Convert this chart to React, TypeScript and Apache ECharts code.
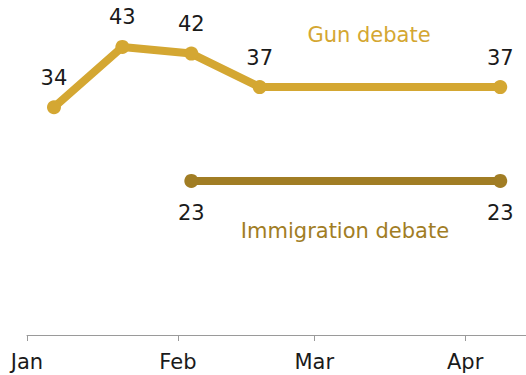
import React, { useEffect, useRef } from "react";
import * as echarts from "echarts";

const seriesNames = ["Gun debate", "Immigration debate"];
const gunDates = ["2013-01-06T13:00", "2013-01-20T14:00", "2013-02-03T18:00", "2013-02-17T19:00", "2013-04-08T05:00"];
const gunValues = [34, 43, 42, 37, 37];
const immDates = ["2013-02-03T18:00", "2013-04-08T05:00"];
const immValues = [23, 23];
const monthTicks = ["2013-01-01T00:00", "2013-02-01T00:00", "2013-03-01T00:00", "2013-04-01T00:00"];
const monthLabels = ["Jan", "Feb", "Mar", "Apr"];
const axisStart = "2013-01-01T00:00";
const axisEnd = "2013-04-13T12:00";

const ts = (s: string) => new Date(s).getTime();
const FONT = "DejaVu Sans";
const GUN = "#D4A732";
const IMM = "#A17D24";

export default function App() {
  const ref = useRef<HTMLDivElement>(null);
  useEffect(() => {
    if (!ref.current) return;
    const chart = echarts.init(ref.current, null, { renderer: "svg" });
    const tickTs = monthTicks.map(ts);
    chart.setOption({
      animation: false,
      grid: { left: 27, right: 0, top: 0, bottom: 40 },
      xAxis: {
        type: "value",
        min: ts(axisStart),
        max: ts(axisEnd),
        axisLine: { show: true, lineStyle: { color: "#9a9a9a", width: 1 } },
        axisTick: { show: true, length: 6, lineStyle: { color: "#9a9a9a" }, customValues: tickTs },
        axisLabel: {
          customValues: tickTs,
          color: "#1a1a1a",
          fontFamily: FONT,
          fontSize: 21,
          margin: 16,
          formatter: (v: number) => {
            const i = tickTs.findIndex((t) => Math.abs(t - v) < 86400000);
            return i >= 0 ? monthLabels[i] : "";
          },
        },
        splitLine: { show: false },
      },
      yAxis: { type: "value", min: 0, max: 50, show: false, splitLine: { show: false } },
      series: [
        {
          name: seriesNames[0],
          type: "line",
          data: gunDates.map((d, i) => [ts(d), gunValues[i]]),
          lineStyle: { color: GUN, width: 8 },
          itemStyle: { color: GUN },
          symbol: "circle",
          symbolSize: 14,
          label: { show: true, position: "top", distance: 12, color: "#1a1a1a", fontFamily: FONT, fontSize: 21 },
        },
        {
          name: seriesNames[1],
          type: "line",
          data: immDates.map((d, i) => [ts(d), immValues[i]]),
          lineStyle: { color: IMM, width: 8 },
          itemStyle: { color: IMM },
          symbol: "circle",
          symbolSize: 14,
          label: { show: true, position: "bottom", distance: 15, color: "#1a1a1a", fontFamily: FONT, fontSize: 21 },
        },
      ],
      graphic: [
        {
          type: "text",
          x: 369,
          y: 35,
          style: { text: seriesNames[0], fill: GUN, font: `21px '${FONT}'`, textAlign: "center", textVerticalAlign: "middle" },
        },
        {
          type: "text",
          x: 345,
          y: 231,
          style: { text: seriesNames[1], fill: IMM, font: `21px '${FONT}'`, textAlign: "center", textVerticalAlign: "middle" },
        },
      ],
    });
    return () => chart.dispose();
  }, []);
  return <div ref={ref} style={{ position: "absolute", left: 0, top: 0, width: 526, height: 375 }} />;
}
